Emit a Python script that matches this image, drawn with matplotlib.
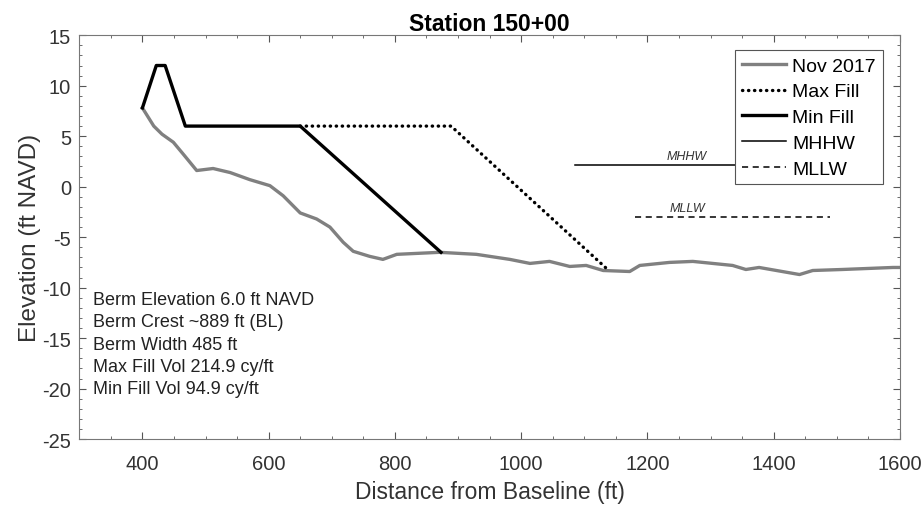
import numpy as np
import matplotlib
matplotlib.use("Agg")
import matplotlib.pyplot as plt
from matplotlib.ticker import AutoMinorLocator

plt.rcParams['font.family'] = ['Liberation Sans', 'DejaVu Sans']
plt.rcParams['axes.unicode_minus'] = False

# Nov 2017 survey profile
nov_x = [400, 418, 431, 449, 465, 486, 512, 539, 570, 602, 623, 650, 676, 697, 718, 734, 760,
         781, 803, 871, 929, 982, 1014, 1045, 1077, 1103, 1130, 1172, 1188, 1235, 1272, 1335,
         1356, 1377, 1441, 1462, 1509, 1589, 1600]
nov_y = [7.8, 6.0, 5.2, 4.4, 3.2, 1.6, 1.8, 1.4, 0.7, 0.1, -0.9, -2.6, -3.2, -4.0, -5.5, -6.4, -6.9,
         -7.2, -6.7, -6.5, -6.7, -7.2, -7.6, -7.4, -7.9, -7.8, -8.3, -8.4, -7.8, -7.5, -7.4, -7.8,
         -8.2, -8.0, -8.7, -8.3, -8.2, -8.0, -8.0]

# fill templates
min_x = [400, 422, 436, 468, 650, 873]
min_y = [7.8, 12.0, 12.0, 6.0, 6.0, -6.5]
max_x = [650, 889, 1137]
max_y = [6.0, 6.0, -8.2]

mhhw = 2.1
mhhw_x = [1085, 1500]
mllw = -3.0
mllw_x = [1180, 1490]

info = ["Berm Elevation 6.0 ft NAVD",
        "Berm Crest ~889 ft (BL)",
        "Berm Width 485 ft",
        "Max Fill Vol 214.9 cy/ft",
        "Min Fill Vol 94.9 cy/ft"]

fig = plt.figure(figsize=(9.22, 5.10), dpi=100)
ax = fig.add_axes([0.086, 0.137, 0.89, 0.792])

ax.plot(nov_x, nov_y, color='#808080', lw=2.4, label='Nov 2017')
ax.plot(max_x, max_y, color='black', lw=2.4, ls=(0, (0.1, 1.7)), dash_capstyle='round',
        label='Max Fill')
ax.plot(min_x, min_y, color='black', lw=2.4, label='Min Fill')
ax.plot(mhhw_x, [mhhw, mhhw], color='black', lw=1.1, label='MHHW')
ax.plot(mllw_x, [mllw, mllw], color='black', lw=1.1, ls=(0, (4, 3)), label='MLLW')

ax.text(1262, mhhw + 0.3, 'MHHW', fontsize=9, style='italic', ha='center', va='bottom', color='#333333')
ax.text(1264, mllw + 0.3, 'MLLW', fontsize=9, style='italic', ha='center', va='bottom', color='#333333')

for i, t in enumerate(info):
    ax.text(322, -11.2 - i * 2.2, t, fontsize=13, ha='left', va='center', color='#222222')

ax.set_xlim(300, 1600)
ax.set_ylim(-25, 15)
ax.set_xticks(np.arange(400, 1601, 200))
ax.set_yticks(np.arange(-25, 16, 5))
ax.xaxis.set_minor_locator(AutoMinorLocator(4))
ax.yaxis.set_minor_locator(AutoMinorLocator(5))
ax.tick_params(which='both', direction='in', top=True, right=True, color='#555555')
ax.tick_params(which='major', length=5, labelsize=14.5, labelcolor='#333333')
ax.tick_params(which='minor', length=2.5)
ax.tick_params(axis='x', which='major', pad=11)
ax.tick_params(axis='y', which='major', pad=6)
for s in ax.spines.values():
    s.set_color('#777777')

ax.set_title('Station 150+00', fontsize=16.5, fontweight='bold', pad=3)
ax.set_xlabel('Distance from Baseline (ft)', fontsize=16.5, color='#333333', labelpad=5)
ax.set_ylabel('Elevation (ft NAVD)', fontsize=17.5, color='#333333', labelpad=1)

leg = ax.legend(loc='upper right', bbox_to_anchor=(0.979, 0.963), borderaxespad=0,
                fontsize=14, frameon=True, fancybox=False, edgecolor='#555555', framealpha=1,
                handlelength=2.3, handletextpad=0.3, borderpad=0.35, labelspacing=0.42)
leg.get_frame().set_linewidth(0.8)
leg.set_zorder(5)

fig.savefig('out.png', dpi=100)
